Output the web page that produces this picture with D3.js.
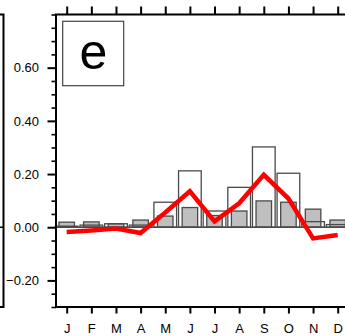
<!DOCTYPE html>
<html><head><meta charset="utf-8">
<script src="https://cdn.jsdelivr.net/npm/d3@7"></script>
<style>html,body{margin:0;padding:0;background:#fff;}svg{display:block;}</style>
</head><body>
<svg id="chart" width="345" height="336"></svg>
<script>
const months = ["J","F","M","A","M","J","J","A","S","O","N","D"];
const monthIdx = [1,2,3,4,5,6,7,8,9,10,11,12];
const whiteBars = [0.004,0.008,0.013,0.008,0.094,0.212,0.061,0.150,0.302,0.203,0.021,0.010];
const greyBars  = [0.019,0.020,0.013,0.027,0.042,0.074,0.044,0.061,0.099,0.094,0.068,0.027];
const redLine   = [-0.018,-0.012,-0.005,-0.022,0.055,0.135,0.022,0.090,0.197,0.108,-0.042,-0.029];
const yMajor = [-0.2,0.0,0.2,0.4,0.6];
const yMinor = d3.range(-30, 81, 5).map(v => v/100);

const svg = d3.select("#chart");
const L = 56, T = 14.5, B = 307, R = 349;
const x = d3.scaleLinear().domain([1,12]).range([66.7,337.7]);
const y = d3.scaleLinear().domain([-0.3,0.8]).range([B,T]);
const step = x(2)-x(1);
const wW = step*0.92, gW = step*0.63;
const font = "'Liberation Sans', Arial, Helvetica, sans-serif";

// left neighbouring panel edge
svg.append("path").attr("d",`M0,${T}H3.5V${B}H0`).attr("fill","none").attr("stroke","#000").attr("stroke-width",2);
svg.append("line").attr("x1",0).attr("x2",3.5).attr("y1",y(0)).attr("y2",y(0)).attr("stroke","#000").attr("stroke-width",1.5);

const plot = svg.append("g");
// grey bars
plot.selectAll("rect.g").data(greyBars).join("rect").attr("class","g")
  .attr("x",(d,i)=>x(monthIdx[i])-gW/2).attr("width",gW)
  .attr("y",d=>y(Math.max(0,d))).attr("height",d=>Math.abs(y(d)-y(0)))
  .attr("fill","#bfbfbf").attr("stroke","#4a4a4a").attr("stroke-width",1.3);
// white (outline) bars
plot.selectAll("rect.w").data(whiteBars).join("rect").attr("class","w")
  .attr("x",(d,i)=>x(monthIdx[i])-wW/2).attr("width",wW)
  .attr("y",d=>y(Math.max(0,d))).attr("height",d=>Math.abs(y(d)-y(0)))
  .attr("fill","none").attr("stroke","#4a4a4a").attr("stroke-width",1.3);
// zero line
plot.append("line").attr("x1",L).attr("x2",R).attr("y1",y(0)).attr("y2",y(0))
  .attr("stroke","#4a4a4a").attr("stroke-width",1.3);
// red line
plot.append("path").datum(redLine)
  .attr("d",d3.line().x((d,i)=>x(monthIdx[i])).y(d=>y(d)))
  .attr("fill","none").attr("stroke","#ff0000").attr("stroke-width",4.5).attr("stroke-linejoin","miter");

// frame
svg.append("rect").attr("x",L).attr("y",T).attr("width",R-L).attr("height",B-T)
  .attr("fill","none").attr("stroke","#000").attr("stroke-width",2);

// y axis
const yAx = d3.axisLeft(y).tickValues(yMajor).tickSize(8.5).tickPadding(8.5).tickFormat(d3.format(".2f"));
const ga = svg.append("g").attr("transform",`translate(${L},0)`).call(yAx);
ga.select(".domain").remove();
ga.selectAll("line").attr("stroke","#000").attr("stroke-width",2);
ga.selectAll("text").attr("font-family",font).attr("font-size",13).attr("fill","#000");
const ym = svg.append("g").attr("transform",`translate(${L},0)`).call(d3.axisLeft(y).tickValues(yMinor.filter(v=>!yMajor.some(m=>Math.abs(m-v)<1e-9))).tickSize(4.5).tickFormat(""));
ym.select(".domain").remove();
ym.selectAll("line").attr("stroke","#000").attr("stroke-width",1.6);

// x axis bottom
const xb = svg.append("g").attr("transform",`translate(0,${B})`)
  .call(d3.axisBottom(x).tickValues(monthIdx).tickSize(6.5).tickPadding(10).tickFormat((d,i)=>months[i]));
xb.select(".domain").remove();
xb.selectAll("line").attr("stroke","#000").attr("stroke-width",2);
xb.selectAll("text").attr("font-family",font).attr("font-size",13).attr("fill","#000");
// x axis top
const xt = svg.append("g").attr("transform",`translate(0,${T})`)
  .call(d3.axisTop(x).tickValues(monthIdx).tickSize(8).tickFormat(""));
xt.select(".domain").remove();
xt.selectAll("line").attr("stroke","#000").attr("stroke-width",2);

// panel label
svg.append("rect").attr("x",62.7).attr("y",21.3).attr("width",61).attr("height",64.4)
  .attr("fill","#fff").attr("stroke","#444").attr("stroke-width",1.2);
svg.append("text").attr("x",93.3).attr("y",68.5).attr("text-anchor","middle")
  .attr("font-family",font).attr("font-size",50).attr("fill","#000").text("e");
</script>
</body></html>
